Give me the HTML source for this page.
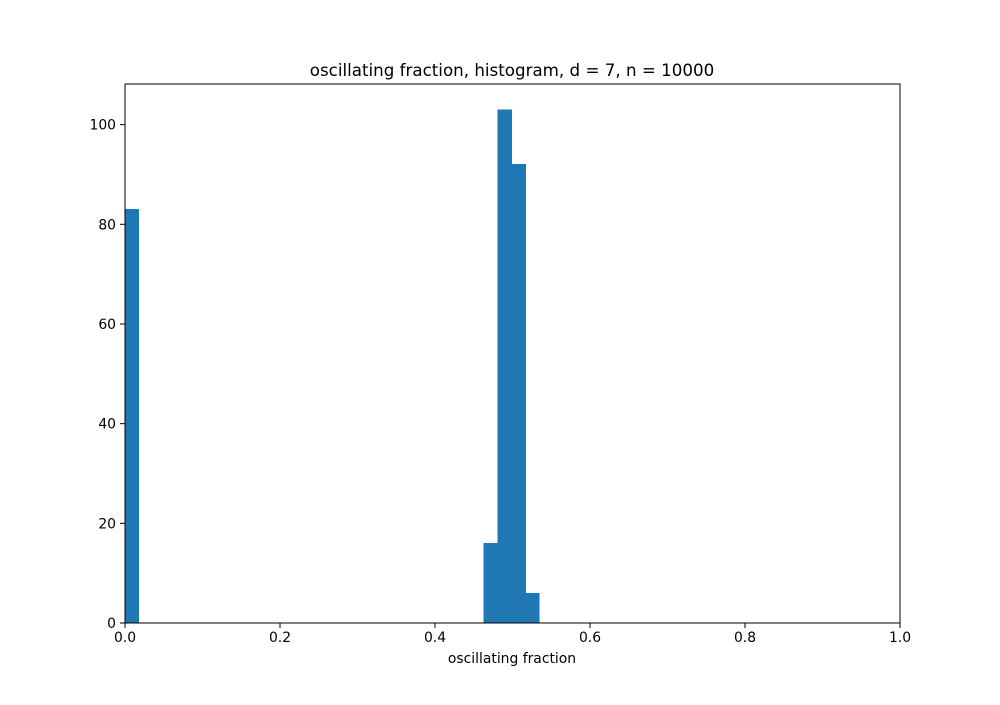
<!DOCTYPE html>
<html><head><meta charset="utf-8"><style>
body{margin:0;background:#fff;}
svg text{font-family:"DejaVu Sans","Liberation Sans",sans-serif;}
</style></head><body>
<svg id="chart" width="1000" height="700" xmlns="http://www.w3.org/2000/svg">
<rect width="1000" height="700" fill="#fff"/>
<text x="512" y="76" text-anchor="middle" font-size="16.7">oscillating fraction, histogram, d = 7, n = 10000</text>
<g id="bars" shape-rendering="crispEdges"></g>
<g id="axes"></g>
<text x="512" y="663" text-anchor="middle" font-size="13.9">oscillating fraction</text>
</svg>
<script>
const binWidth = 0.536/30;
const binLefts = [0, 0.4632, 0.4632+0.536/30, 0.4632+2*0.536/30, 0.4632+3*0.536/30];
const counts = [83, 16, 103, 92, 6];
const xTicks = [0, 0.2, 0.4, 0.6, 0.8, 1.0];
const xTickLabels = ["0.0","0.2","0.4","0.6","0.8","1.0"];
const yTicks = [0, 20, 40, 60, 80, 100];
const yTickLabels = ["0","20","40","60","80","100"];
const L=125,R=900,T=84,B=623,YMAX=108.15;
const sx=v=>L+v*(R-L);
const sy=v=>B-v/YMAX*(B-T);
const NS="http://www.w3.org/2000/svg";
const bars=document.getElementById('bars'), axes=document.getElementById('axes');
function mk(tag,attrs,parent){const e=document.createElementNS(NS,tag);for(const k in attrs)e.setAttribute(k,attrs[k]);parent.appendChild(e);return e;}
binLefts.forEach((x0,i)=>{
  const r=mk('rect',{x:sx(x0),y:sy(counts[i]),width:sx(x0+binWidth)-sx(x0),height:sy(0)-sy(counts[i]),fill:'#1f77b4',stroke:'#1f77b4','stroke-width':0.5},bars);
  
  
});
const frame=mk('rect',{x:L,y:T,width:R-L,height:B-T,fill:'none',stroke:'#000','stroke-width':1},axes);


xTicks.forEach((v,i)=>{
  const x=sx(v);
  mk('line',{x1:x,x2:x,y1:B,y2:B+5,stroke:'#000'},axes);
  const t=mk('text',{x:x,y:B+19,'text-anchor':'middle','font-size':13.9},axes);
  t.textContent=xTickLabels[i];
  
  
});
yTicks.forEach((v,i)=>{
  const y=sy(v);
  mk('line',{x1:L-5,x2:L,y1:y,y2:y,stroke:'#000'},axes);
  const t=mk('text',{x:L-9,y:y+5,'text-anchor':'end','font-size':13.9},axes);
  t.textContent=yTickLabels[i];
  
  
});
</script>
</body></html>
